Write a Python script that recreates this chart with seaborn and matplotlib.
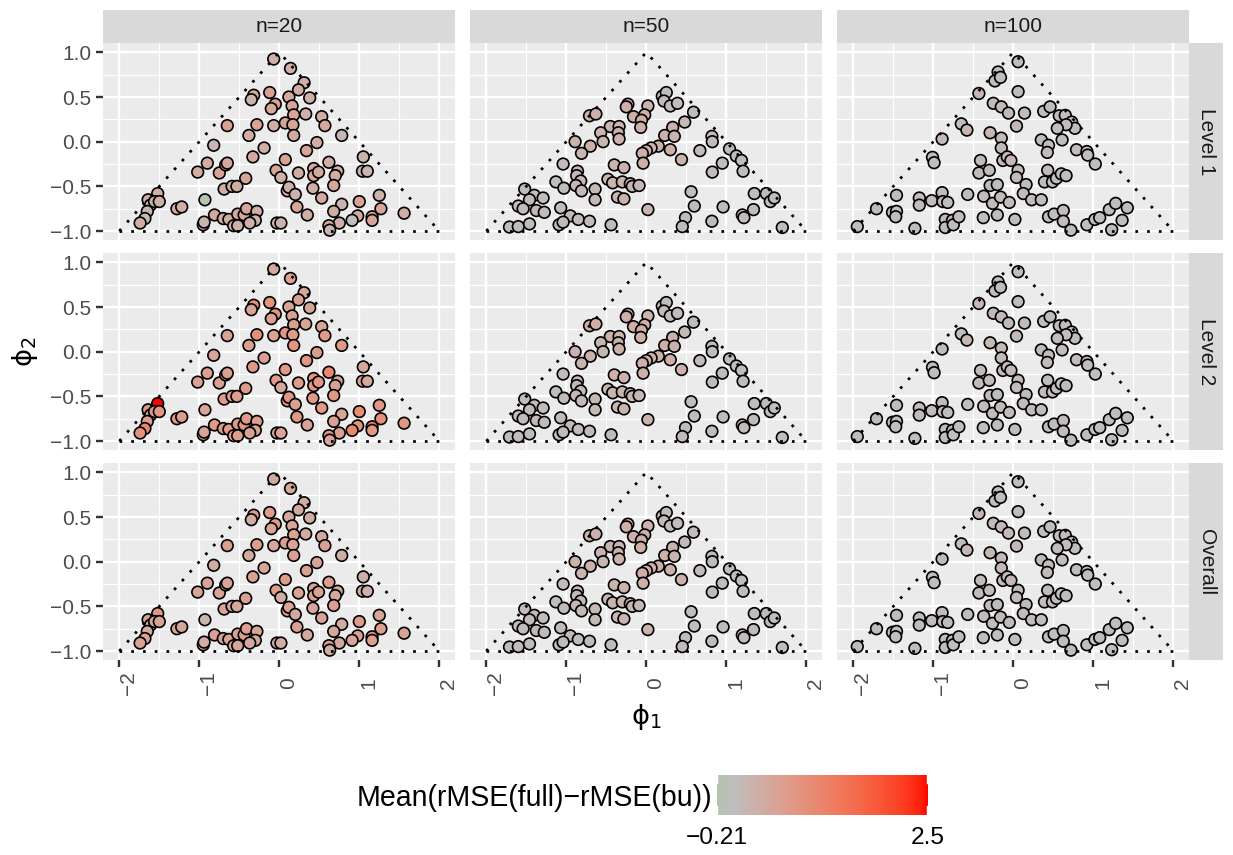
import numpy as np
import pandas as pd
import matplotlib
matplotlib.use("Agg")
import matplotlib.pyplot as plt
from matplotlib.colors import ListedColormap, Normalize, to_rgb
import seaborn as sns

# ---------------------------------------------------------------- data
facet_cols = ["n=20", "n=50", "n=100"]
facet_rows = ["Level 1", "Level 2", "Overall"]
x_ticks = [-2, -1, 0, 1, 2]
y_ticks = [-1.0, -0.5, 0.0, 0.5, 1.0]
fill_min, fill_max = -0.21, 2.5

phi1_n20 = [-0.07, 0.14, 0.31, 0.24, -0.32, -0.35, -0.12, 0.12, 0.38, -0.05,
            -0.10, 0.16, 0.18, 0.33, 0.53, 0.57, -0.65, -0.28, -0.07, 0.075,
            0.17, 0.18, -0.38, 0.78, -0.82, -0.19, -0.33, 0.47, 0.34, 0.075,
            0.62, 1.05, 1.04, 1.10, -1.02, -0.90, -0.75, -0.67, -0.65, -0.04,
            0.02, 0.24, 0.43, 0.43, 0.49, 0.73, 0.70, 0.68, -0.42, -0.69,
            -0.59, -0.53, 0.10, 0.12, 0.20, 0.42, 0.53, 1.25, 1.00, 0.78,
            0.68, 0.22, 0.35, 1.27, 1.56, 0.98, 0.91, 1.16, 1.16, 0.75,
            0.62, 0.63, -0.03, 0.02, -0.93, -0.81, -0.70, -0.63, -0.52, -0.44,
            -0.41, -0.28, -0.30, -0.37, -0.57, -0.52, -0.95, -0.94, -1.28, -1.22,
            -1.52, -1.64, -1.61, -1.56, -1.50, -1.65, -1.68, -1.74]
phi2_n20 = [0.925, 0.82, 0.66, 0.58, 0.52, 0.47, 0.55, 0.50, 0.49, 0.42,
            0.37, 0.40, 0.30, 0.31, 0.28, 0.18, 0.18, 0.19, 0.18, 0.21,
            0.19, 0.07, 0.07, 0.07, -0.04, -0.07, -0.17, -0.01, -0.10, -0.20,
            -0.23, -0.17, -0.33, -0.33, -0.34, -0.24, -0.35, -0.26, -0.24, -0.32,
            -0.40, -0.35, -0.30, -0.38, -0.34, -0.33, -0.38, -0.49, -0.41, -0.53,
            -0.50, -0.50, -0.55, -0.51, -0.59, -0.52, -0.63, -0.60, -0.67, -0.70,
            -0.78, -0.73, -0.82, -0.75, -0.80, -0.83, -0.88, -0.84, -0.88, -0.91,
            -0.94, -0.99, -0.91, -0.91, -0.65, -0.82, -0.86, -0.87, -0.81, -0.82,
            -0.75, -0.78, -0.88, -0.91, -0.94, -0.94, -0.93, -0.90, -0.75, -0.73,
            -0.58, -0.65, -0.71, -0.67, -0.67, -0.78, -0.86, -0.91]
level1_n20 = [0.30, 0.30, 0.30, 0.40, 0.55, 0.20, 0.60, 0.45, 0.30, 0.60,
              0.45, 0.50, 0.50, 0.30, 0.30, 0.45, 0.60, 0.55, 0.35, 0.55,
              0.50, 0.45, 0.35, 0.15, 0.15, 0.35, 0.45, 0.35, 0.50, 0.55,
              0.35, 0.20, 0.20, 0.20, 0.40, 0.40, 0.55, 0.45, 0.45, 0.55,
              0.30, 0.35, 0.40, 0.50, 0.45, 0.35, 0.35, 0.50, 0.55, 0.40,
              0.30, 0.35, 0.45, 0.25, 0.25, 0.35, 0.45, 0.25, 0.55, 0.20,
              0.35, 0.50, 0.35, 0.50, 0.35, 0.45, 0.00, 0.65, 0.50, 0.30,
              0.40, 0.20, 0.30, 0.25, -0.21, 0.45, 0.35, 0.35, 0.45, 0.45,
              0.50, 0.35, 0.25, 0.30, 0.30, 0.30, 0.20, 0.20, 0.35, 0.35,
              0.35, 0.30, 0.00, 0.25, 0.30, 0.20, 0.05, 0.35]
level2_n20 = [0.45, 0.60, 0.50, 0.60, 1.00, 0.50, 0.90, 0.55, 0.50, 0.90,
              0.60, 0.60, 0.60, 0.50, 0.55, 0.75, 0.55, 0.95, 0.55, 0.80,
              0.70, 0.80, 0.60, 0.75, 0.50, 0.65, 0.80, 0.70, 0.80, 0.75,
              1.10, 0.45, 0.55, 0.45, 0.60, 0.65, 0.60, 0.60, 0.60, 0.75,
              0.45, 0.70, 0.80, 0.85, 0.80, 0.60, 0.60, 0.80, 0.70, 0.70,
              0.60, 0.60, 0.85, 0.80, 0.60, 0.75, 0.75, 0.80, 1.00, 0.55,
              0.60, 0.80, 0.55, 0.90, 0.80, 0.85, 1.10, 1.20, 0.80, 0.60,
              0.80, 0.50, 0.65, 0.50, 0.50, 0.75, 0.75, 0.75, 0.75, 0.80,
              0.75, 0.70, 0.55, 0.60, 0.70, 0.65, 0.55, 0.50, 0.70, 0.70,
              2.50, 0.80, 0.45, 0.70, 0.80, 0.60, 1.20, 0.90]
overall_n20 = [0.40, 0.45, 0.35, 0.45, 0.75, 0.40, 0.70, 0.45, 0.40, 0.70,
               0.50, 0.50, 0.55, 0.40, 0.45, 0.60, 0.60, 0.70, 0.45, 0.65,
               0.55, 0.60, 0.45, 0.30, 0.40, 0.50, 0.60, 0.50, 0.60, 0.70,
               0.65, 0.30, 0.35, 0.30, 0.50, 0.55, 0.55, 0.50, 0.50, 0.70,
               0.35, 0.55, 0.55, 0.65, 0.60, 0.45, 0.45, 0.65, 0.60, 0.55,
               0.45, 0.45, 0.65, 0.55, 0.45, 0.50, 0.55, 0.50, 0.70, 0.35,
               0.45, 0.65, 0.45, 0.65, 0.55, 0.60, 0.50, 0.90, 0.65, 0.45,
               0.60, 0.35, 0.45, 0.40, 0.20, 0.60, 0.55, 0.55, 0.60, 0.60,
               0.60, 0.50, 0.45, 0.45, 0.50, 0.50, 0.40, 0.35, 0.50, 0.50,
               0.80, 0.50, 0.25, 0.45, 0.55, 0.40, 0.55, 0.60]

phi1_n50 = [-0.23, -0.25, -0.16, -0.71, -0.63, -0.45, -0.34, -0.57, -0.54, -0.35,
            -0.34, -0.89, -0.70, -0.81, -1.04, -0.40, -0.28, -0.86, -0.87, -0.82,
            -0.88, -0.81, -1.13, -1.03, -0.64, -0.64, -0.48, -0.42, -0.30, -0.20,
            -0.175, -0.09, -0.36, -0.28, -1.52, -1.40, -1.46, -1.29, -1.60, -1.54,
            -1.375, -1.275, -1.07, -0.95, -0.85, -0.71, -1.09, -1.04, -1.71, -1.60,
            -1.46, -0.44, 0.02, 0.20, 0.25, 0.22, 0.30, 0.39, 0.02, -0.02,
            -0.06, -0.07, 0.33, 0.23, 0.35, 0.48, 0.59, 0.15, 0.06, 0.00,
            -0.05, -0.04, 0.30, 0.44, 0.67, 0.82, 0.825, 1.04, 1.125, 1.19,
            1.21, 0.95, 0.825, 0.56, 0.60, 1.35, 1.50, 1.55, 1.60, 1.34,
            1.20, 1.22, 0.96, 0.49, 0.45, 0.82, 1.70]
phi2_n50 = [0.42, 0.39, 0.28, 0.29, 0.31, 0.17, 0.17, 0.10, 0.00, 0.10,
            0.03, 0.00, -0.05, -0.13, -0.25, -0.26, -0.29, -0.33, -0.38, -0.44,
            -0.49, -0.55, -0.45, -0.52, -0.53, -0.65, -0.42, -0.46, -0.45, -0.47,
            -0.50, -0.49, -0.62, -0.64, -0.53, -0.60, -0.65, -0.63, -0.72, -0.75,
            -0.77, -0.79, -0.74, -0.83, -0.87, -0.89, -0.93, -0.90, -0.955, -0.95,
            -0.92, -0.93, -0.76, 0.51, 0.55, 0.455, 0.40, 0.43, 0.40, 0.30,
            0.24, 0.16, 0.16, 0.07, 0.06, 0.22, 0.33, -0.05, -0.07, -0.10,
            -0.13, -0.24, -0.09, -0.20, -0.10, 0.06, 0.00, -0.08, -0.16, -0.21,
            -0.33, -0.24, -0.34, -0.56, -0.72, -0.58, -0.58, -0.67, -0.63, -0.76,
            -0.82, -0.85, -0.73, -0.85, -0.95, -0.89, -0.96]
level1_n50 = [0.30, 0.30, 0.30, 0.25, 0.25, 0.20, 0.20, 0.20, 0.15, 0.25,
              0.25, 0.25, 0.30, 0.20, 0.05, 0.25, 0.25, 0.15, 0.10, 0.10,
              0.15, 0.10, 0.05, 0.05, 0.10, 0.10, 0.20, 0.20, 0.20, 0.15,
              0.15, 0.15, 0.20, 0.20, 0.05, 0.05, 0.10, 0.05, 0.05, 0.05,
              0.10, 0.05, 0.05, 0.10, 0.05, 0.05, 0.05, 0.05, 0.05, 0.05,
              0.05, 0.05, 0.20, 0.05, 0.05, 0.05, 0.05, 0.05, 0.25, 0.30,
              0.30, 0.30, 0.25, 0.25, 0.20, 0.10, 0.05, 0.30, 0.25, 0.30,
              0.30, 0.30, 0.30, 0.25, 0.05, 0.05, 0.05, 0.05, 0.00, 0.00,
              0.00, 0.05, 0.05, 0.00, 0.05, 0.00, 0.05, 0.00, 0.00, 0.05,
              0.05, 0.05, 0.05, 0.05, 0.05, 0.05, 0.00]
level2_n50 = [0.30, 0.30, 0.35, 0.30, 0.30, 0.25, 0.20, 0.20, 0.15, 0.25,
              0.30, 0.25, 0.30, 0.20, 0.05, 0.30, 0.25, 0.15, 0.10, 0.10,
              0.15, 0.10, 0.05, 0.05, 0.10, 0.10, 0.20, 0.20, 0.20, 0.15,
              0.15, 0.15, 0.20, 0.20, 0.05, 0.05, 0.10, 0.05, 0.05, 0.05,
              0.10, 0.05, 0.05, 0.10, 0.05, 0.05, 0.05, 0.05, 0.05, 0.05,
              0.05, 0.05, 0.20, 0.05, 0.05, 0.05, 0.05, 0.05, 0.25, 0.30,
              0.35, 0.30, 0.30, 0.30, 0.25, 0.10, 0.05, 0.30, 0.25, 0.30,
              0.30, 0.30, 0.30, 0.25, 0.05, 0.05, 0.05, 0.05, 0.00, 0.00,
              0.00, 0.05, 0.05, 0.00, 0.05, 0.00, 0.05, 0.00, 0.00, 0.05,
              0.05, 0.05, 0.05, 0.05, 0.05, 0.05, 0.00]
overall_n50 = [0.30, 0.30, 0.30, 0.25, 0.25, 0.20, 0.20, 0.20, 0.15, 0.25,
               0.25, 0.25, 0.30, 0.20, 0.05, 0.25, 0.25, 0.15, 0.10, 0.10,
               0.15, 0.10, 0.05, 0.05, 0.10, 0.10, 0.20, 0.20, 0.20, 0.15,
               0.15, 0.15, 0.20, 0.20, 0.05, 0.05, 0.10, 0.05, 0.05, 0.05,
               0.10, 0.05, 0.05, 0.10, 0.05, 0.05, 0.05, 0.05, 0.05, 0.05,
               0.05, 0.05, 0.20, 0.05, 0.05, 0.05, 0.05, 0.05, 0.25, 0.30,
               0.30, 0.30, 0.25, 0.25, 0.20, 0.10, 0.05, 0.30, 0.25, 0.30,
               0.30, 0.30, 0.30, 0.25, 0.05, 0.05, 0.05, 0.05, 0.00, 0.00,
               0.00, 0.05, 0.05, 0.00, 0.05, 0.00, 0.05, 0.00, 0.00, 0.05,
               0.05, 0.05, 0.05, 0.05, 0.05, 0.05, 0.00]

phi1_n100 = [-1.95, -1.71, -1.46, -1.51, -1.46, -1.47, -1.175, -1.175, -1.02, -0.89,
             -0.88, -0.82, -1.23, -0.85, -0.85, -0.76, -0.75, -0.68, -0.57, -0.375,
             -0.37, -0.20, -1.01, -0.99, -0.89, -0.65, -0.58, -0.43, -0.25, -0.15,
             -0.06, -0.29, -0.15, -0.15, -0.13, -0.075, -0.03, -0.41, -0.43, -0.30,
             -0.29, -0.20, -0.26, -0.16, -0.05, -0.19, -0.23, -0.16, 0.06, 0.06,
             0.14, 0.04, 0.38, 0.46, 0.575, 0.65, 0.73, 0.77, 0.66, 0.55,
             0.61, 0.35, 0.44, 0.425, 0.79, 0.92, 0.93, 1.025, 0.06, 0.04,
             0.16, 0.125, 0.23, 0.35, 0.43, 0.39, 0.49, 0.54, 0.60, 0.66,
             0.02, 0.44, 0.51, 0.625, 0.625, 0.72, 0.92, 1.02, 1.08, 1.20,
             1.28, 1.425, 1.36, 1.23]
phi2_n100 = [-0.95, -0.75, -0.60, -0.79, -0.78, -0.84, -0.63, -0.71, -0.66, -0.57,
             -0.67, -0.68, -0.97, -0.87, -0.96, -0.88, -0.93, -0.84, -0.59, -0.85,
             -0.61, -0.82, -0.175, -0.235, 0.03, 0.20, 0.13, 0.54, 0.43, 0.39,
             0.32, 0.10, 0.04, -0.07, -0.21, -0.17, -0.21, -0.21, -0.35, -0.32,
             -0.49, -0.48, -0.69, -0.62, -0.68, 0.78, 0.68, 0.72, 0.895, 0.56,
             0.32, 0.175, 0.34, 0.39, 0.29, 0.295, 0.22, 0.15, 0.19, 0.15,
             0.02, 0.02, -0.04, -0.12, -0.09, -0.11, -0.15, -0.25, -0.32, -0.40,
             -0.48, -0.58, -0.65, -0.65, -0.32, -0.45, -0.45, -0.41, -0.36, -0.38,
             -0.87, -0.84, -0.81, -0.77, -0.89, -0.99, -0.93, -0.87, -0.85, -0.76,
             -0.69, -0.74, -0.88, -0.985]
level1_n100 = [0.05, 0.05, 0.05, 0.03, 0.05, 0.03, 0.03, 0.05, 0.03, 0.05,
               0.03, 0.03, 0.03, 0.05, 0.03, 0.05, 0.03, 0.03, 0.03, 0.03,
               0.05, 0.03, 0.05, 0.03, 0.08, 0.03, 0.15, 0.15, 0.08, 0.08,
               0.10, 0.15, 0.10, 0.10, 0.12, 0.10, 0.15, 0.05, 0.05, 0.05,
               0.05, 0.05, 0.05, 0.05, 0.05, 0.03, 0.03, 0.03, 0.03, 0.05,
               0.05, 0.10, 0.03, 0.03, 0.03, 0.03, 0.03, 0.03, 0.03, 0.03,
               0.03, 0.05, 0.05, 0.05, 0.03, 0.03, 0.03, 0.03, 0.08, 0.08,
               0.05, 0.05, 0.03, 0.03, 0.05, 0.03, 0.03, 0.03, 0.03, 0.03,
               0.03, 0.03, 0.03, 0.03, 0.03, 0.03, 0.03, 0.03, 0.03, 0.03,
               0.03, 0.03, 0.03, 0.03]
level2_n100 = [0.05, 0.05, 0.05, 0.03, 0.05, 0.03, 0.03, 0.05, 0.03, 0.05,
               0.03, 0.03, 0.03, 0.05, 0.03, 0.05, 0.03, 0.03, 0.03, 0.03,
               0.05, 0.03, 0.05, 0.03, 0.08, 0.03, 0.12, 0.12, 0.08, 0.08,
               0.10, 0.12, 0.10, 0.10, 0.10, 0.10, 0.12, 0.05, 0.05, 0.05,
               0.05, 0.05, 0.05, 0.05, 0.05, 0.03, 0.03, 0.03, 0.03, 0.05,
               0.05, 0.08, 0.03, 0.03, 0.03, 0.03, 0.03, 0.03, 0.03, 0.03,
               0.03, 0.05, 0.05, 0.05, 0.03, 0.03, 0.03, 0.03, 0.06, 0.06,
               0.05, 0.05, 0.03, 0.03, 0.05, 0.03, 0.03, 0.03, 0.03, 0.03,
               0.03, 0.03, 0.03, 0.03, 0.03, 0.03, 0.03, 0.03, 0.03, 0.03,
               0.03, 0.03, 0.03, 0.03]
overall_n100 = [0.05, 0.05, 0.05, 0.03, 0.05, 0.03, 0.03, 0.05, 0.03, 0.05,
                0.03, 0.03, 0.03, 0.05, 0.03, 0.05, 0.03, 0.03, 0.03, 0.03,
                0.05, 0.03, 0.05, 0.03, 0.08, 0.03, 0.13, 0.13, 0.08, 0.08,
                0.10, 0.13, 0.10, 0.10, 0.11, 0.10, 0.13, 0.05, 0.05, 0.05,
                0.05, 0.05, 0.05, 0.05, 0.05, 0.03, 0.03, 0.03, 0.03, 0.05,
                0.05, 0.09, 0.03, 0.03, 0.03, 0.03, 0.03, 0.03, 0.03, 0.03,
                0.03, 0.05, 0.05, 0.05, 0.03, 0.03, 0.03, 0.03, 0.07, 0.07,
                0.05, 0.05, 0.03, 0.03, 0.05, 0.03, 0.03, 0.03, 0.03, 0.03,
                0.03, 0.03, 0.03, 0.03, 0.03, 0.03, 0.03, 0.03, 0.03, 0.03,
                0.03, 0.03, 0.03, 0.03]

# ------------------------------------------------------------ tidy frame
frames = []
for n_lab, p1, p2, vals in [
    ("n=20", phi1_n20, phi2_n20, (level1_n20, level2_n20, overall_n20)),
    ("n=50", phi1_n50, phi2_n50, (level1_n50, level2_n50, overall_n50)),
    ("n=100", phi1_n100, phi2_n100, (level1_n100, level2_n100, overall_n100)),
]:
    for lvl, v in zip(facet_rows, vals):
        frames.append(pd.DataFrame({"phi1": p1, "phi2": p2, "diff": v,
                                    "n": n_lab, "level": lvl}))
df = pd.concat(frames, ignore_index=True)

# ------------------------------------------------------ colour gradient
_M = np.array([[0.4124564, 0.3575761, 0.1804375],
               [0.2126729, 0.7151522, 0.0721750],
               [0.0193339, 0.1191920, 0.9503041]])
_WP = np.array([0.95047, 1.0, 1.08883])


def to_lab(col):
    rgb = np.array(to_rgb(col))
    lin = np.where(rgb <= 0.04045, rgb / 12.92, ((rgb + 0.055) / 1.055) ** 2.4)
    t = (_M @ lin) / _WP
    f = np.where(t > (6 / 29) ** 3, np.cbrt(t), t / (3 * (6 / 29) ** 2) + 4 / 29)
    return np.array([116 * f[1] - 16, 500 * (f[0] - f[1]), 200 * (f[1] - f[2])])


def from_lab(lab):
    fy = (lab[0] + 16) / 116
    f = np.array([fy + lab[1] / 500, fy, fy - lab[2] / 200])
    t = np.where(f > 6 / 29, f ** 3, 3 * (6 / 29) ** 2 * (f - 4 / 29))
    lin = np.clip(np.linalg.solve(_M, t * _WP), 0, 1)
    rgb = np.where(lin <= 0.0031308, 12.92 * lin, 1.055 * lin ** (1 / 2.4) - 0.055)
    return np.clip(rgb, 0, 1)


lab_low, lab_mid, lab_high = to_lab("#B4C4AE"), to_lab("#BEBEBE"), to_lab("#FF0000")
grid_vals = np.linspace(fill_min, fill_max, 512)
ramp = []
for v in grid_vals:
    if v < 0:
        lab = lab_mid + (v / fill_min) * (lab_low - lab_mid)
    else:
        lab = lab_mid + (v / fill_max) * (lab_high - lab_mid)
    ramp.append(from_lab(lab))
cmap = ListedColormap(ramp)
norm = Normalize(fill_min, fill_max)

# -------------------------------------------------------------- figure
W, H, DPI = 1233, 855, 171
plt.rcParams["font.family"] = ["Liberation Sans", "DejaVu Sans"]
plt.rcParams["axes.unicode_minus"] = True
fig = plt.figure(figsize=(W / DPI, H / DPI), dpi=DPI)


def px_axes(x0, y0, w, h):
    return fig.add_axes([x0 / W, 1 - (y0 + h) / H, w / W, h / H])


panel_left = [103.3, 470.3, 837.3]
panel_top = [43.4, 253.4, 463.4]
panel_w, panel_h = 352.0, 196.6
strip_h = 33.0
strip_w = 34.0

TEXT_GREY = "#4D4D4D"
for ci, n_lab in enumerate(facet_cols):
    for ri, lvl in enumerate(facet_rows):
        ax = px_axes(panel_left[ci], panel_top[ri], panel_w, panel_h)
        ax.set_facecolor("#EBEBEB")
        for sp in ax.spines.values():
            sp.set_visible(False)
        ax.set_xlim(-2.2, 2.2)
        ax.set_ylim(-1.1, 1.1)
        ax.set_xticks(x_ticks)
        ax.set_xticks([-1.5, -0.5, 0.5, 1.5], minor=True)
        ax.set_yticks(y_ticks)
        ax.set_yticks([-0.75, -0.25, 0.25, 0.75], minor=True)
        ax.set_axisbelow(True)
        ax.grid(which="major", color="white", linewidth=1.0)
        ax.grid(which="minor", color="white", linewidth=0.5)
        ax.tick_params(which="minor", length=0)
        ax.tick_params(which="major", length=2.75, width=1.0, color="#333333",
                       labelsize=8.8, labelcolor=TEXT_GREY)
        ax.tick_params(axis="y", pad=2.2)

        sub = df[(df["n"] == n_lab) & (df["level"] == lvl)]
        sns.scatterplot(data=sub, x="phi1", y="phi2", hue="diff", palette=cmap,
                        hue_norm=norm, s=24, edgecolor="black", linewidth=0.7,
                        legend=False, ax=ax, zorder=3)
        # stationarity region boundary
        dot = dict(color="black", linewidth=1.15, linestyle=(0, (1, 3.3)), zorder=4)
        ax.plot([-2, 0, 2], [-1, 1, -1], **dot)
        ax.plot([-2, 2], [-1, -1], **dot)
        ax.set_xlabel("")
        ax.set_ylabel("")

        if ci == 0:
            ax.set_yticklabels([f"{t:.1f}".replace("-", "\u2212") for t in y_ticks])
        else:
            ax.tick_params(axis="y", labelleft=False, length=0)
        if ri == len(facet_rows) - 1:
            ax.set_xticklabels([str(t).replace("-", "\u2212") for t in x_ticks],
                               rotation=90, ha="center", va="top",
                               rotation_mode="anchor")
            ax.tick_params(axis="x", pad=7.0)
        else:
            ax.tick_params(axis="x", labelbottom=False, length=0)

    # column strip
    sax = px_axes(panel_left[ci], panel_top[0] - strip_h, panel_w, strip_h)
    sax.set_facecolor("#D9D9D9")
    sax.set_xticks([]); sax.set_yticks([])
    for sp in sax.spines.values():
        sp.set_visible(False)
    sax.text(0.5, 0.5, n_lab, ha="center", va="center", fontsize=8.8,
             color="#1A1A1A", transform=sax.transAxes)

# row strips
for ri, lvl in enumerate(facet_rows):
    sax = px_axes(panel_left[2] + panel_w, panel_top[ri], strip_w, panel_h)
    sax.set_facecolor("#D9D9D9")
    sax.set_xticks([]); sax.set_yticks([])
    for sp in sax.spines.values():
        sp.set_visible(False)
    sax.text(0.5, 0.5, lvl, ha="center", va="center", rotation=-90, fontsize=8.8,
             color="#1A1A1A", transform=sax.transAxes)

# axis titles
fig.text(646 / W, 1 - 717 / H, "\u03d5$_1$", ha="center", va="center", fontsize=11.5,
         family=["DejaVu Sans"])
fig.text(25 / W, 1 - 352 / H, "\u03d5$_2$", ha="center", va="center", fontsize=11.5,
         rotation=90, family=["DejaVu Sans"])

# colour bar legend
cax = px_axes(717, 775, 211, 40)
cax.imshow(grid_vals[None, :], cmap=cmap, norm=norm, aspect="auto",
           extent=[fill_min, fill_max, 0, 1], interpolation="bilinear")
cax.set_xlim(fill_min, fill_max)
cax.set_ylim(0, 1)
cax.set_xticks([]); cax.set_yticks([])
for sp in cax.spines.values():
    sp.set_visible(False)
for xv in (fill_min, fill_max):
    cax.plot([xv, xv], [0, 0.2], color="white", lw=1.0, clip_on=True)
    cax.plot([xv, xv], [0.8, 1.0], color="white", lw=1.0, clip_on=True)
fig.text(717 / W, 1 - 838 / H, "\u22120.21", ha="center", va="center", fontsize=10.3,
         color="black")
fig.text(928 / W, 1 - 838 / H, "2.5", ha="center", va="center", fontsize=10.3,
         color="black")
fig.text(712 / W, 1 - 798 / H, "Mean(rMSE(full)\u2212rMSE(bu))", ha="right",
         va="center", fontsize=12.0, color="black")

fig.savefig("out.png", dpi=DPI)
